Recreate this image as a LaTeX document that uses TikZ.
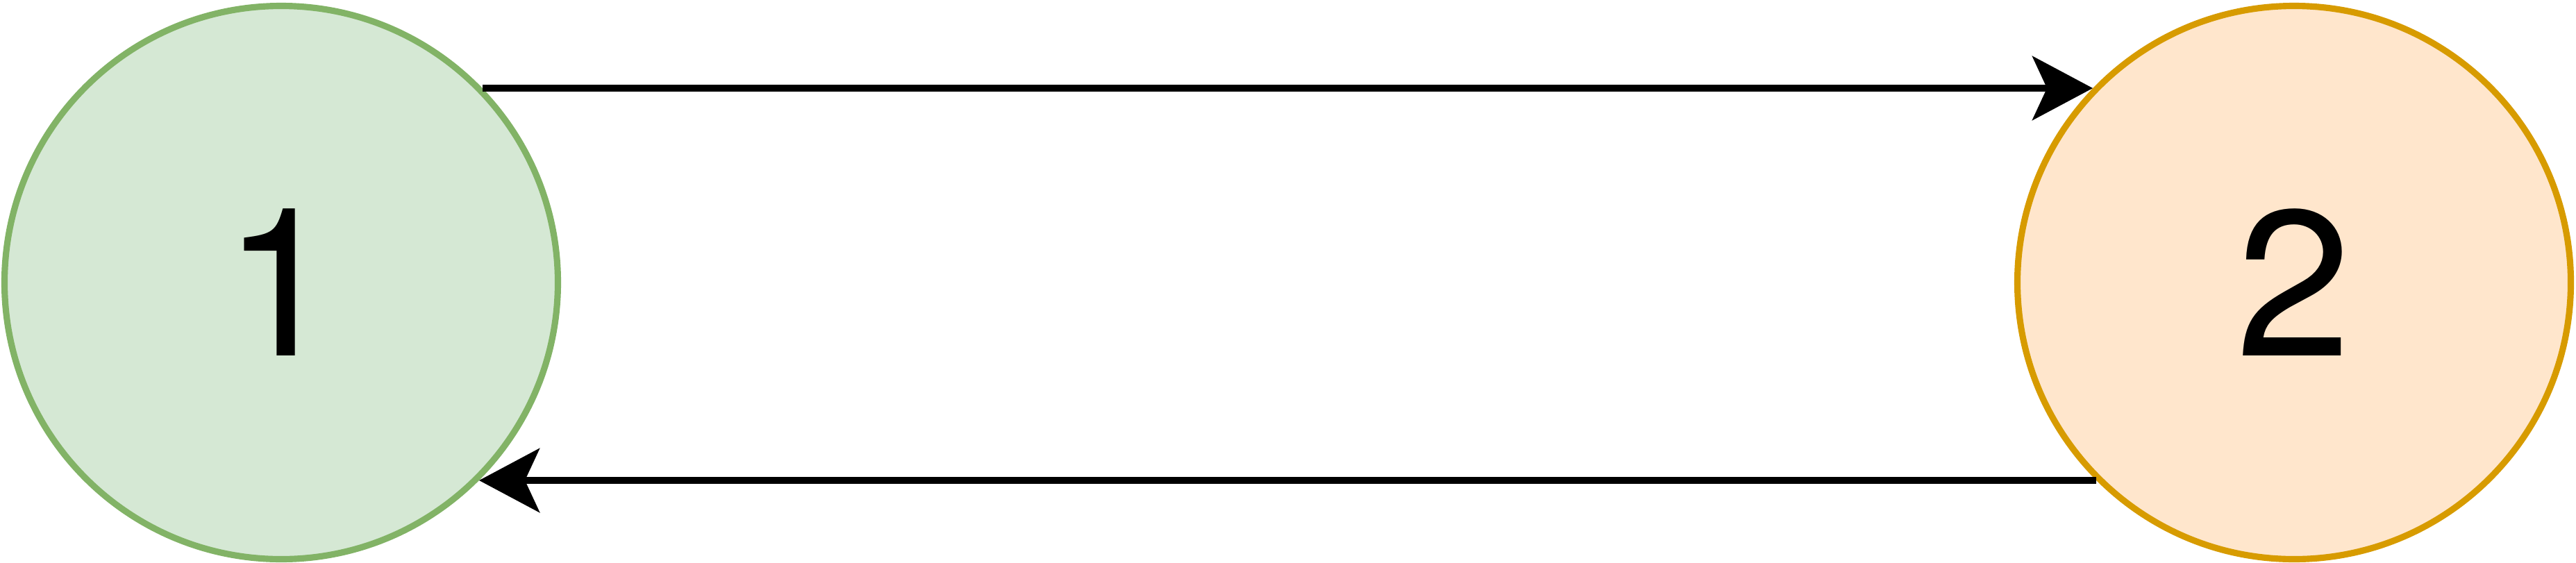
\documentclass[tikz,border=0pt]{standalone}
\usepackage{fontspec}
\setmainfont{TeX Gyre Heros}
\usetikzlibrary{arrows.meta}
\definecolor{vertfond}{HTML}{D5E8D4}
\definecolor{vertbord}{HTML}{82B366}
\definecolor{orangefond}{HTML}{FFE6CC}
\definecolor{orangebord}{HTML}{D79B00}

\begin{document}
\begin{tikzpicture}[
    sommet/.style={circle, draw, line width=2.6pt, minimum size=7.97cm, inner sep=0pt,
      font=\fontsize{85}{85}\selectfont},
    arc/.style={line width=2.85pt, -{Stealth[length=0.87cm, width=0.92cm, inset=0.21cm]}}
  ]
        % Cadre
        \useasboundingbox (0,0) rectangle (37.1,8.1);
        % Sommets
        \node[sommet, draw=vertbord, fill=vertfond] (un) at (4.05,4.03) {1};
        \node[sommet, draw=orangebord, fill=orangefond] (deux) at (33.04,4.03) {2};
        % Arcs aller et retour
        \draw[arc] (un.44) -- (deux.136);
        \draw[arc] (deux.-135) -- (un.-45);
    \end{tikzpicture}
\end{document}
